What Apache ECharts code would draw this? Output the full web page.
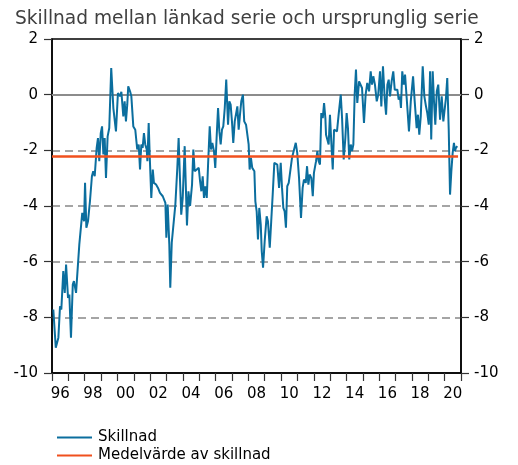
<!DOCTYPE html>
<html>
<head>
<meta charset="utf-8">
<script src="https://cdn.jsdelivr.net/npm/echarts@6/dist/echarts.min.js"></script>
<style>
  html, body { margin: 0; padding: 0; background: #fff; }
  #chart { width: 518px; height: 465px; }
</style>
</head>
<body>
<div id="chart"></div>
<script>
// År (decimal) och skillnad
var tid = [
  1996.08, 1996.23, 1996.39, 1996.49, 1996.57, 1996.69, 1996.78, 1996.86, 1996.98, 1997.06,
  1997.16, 1997.27, 1997.34, 1997.47, 1997.67, 1997.75, 1997.85, 1997.96, 1998.02, 1998.10,
  1998.20, 1998.32, 1998.44, 1998.52, 1998.61, 1998.73, 1998.81, 1998.89, 1998.98, 1999.06,
  1999.14, 1999.22, 1999.30, 1999.40, 1999.50, 1999.62, 1999.75, 1999.91, 2000.03, 2000.16,
  2000.24, 2000.28, 2000.36, 2000.44, 2000.52, 2000.60, 2000.66, 2000.77, 2000.85, 2000.97,
  2001.09, 2001.21, 2001.30, 2001.38, 2001.46, 2001.54, 2001.62, 2001.70, 2001.79, 2001.83,
  2001.91, 2001.97, 2002.07, 2002.16, 2002.23, 2002.36, 2002.48, 2002.60, 2002.68, 2002.77,
  2002.85, 2002.93, 2002.99, 2003.07, 2003.17, 2003.23, 2003.32, 2003.40, 2003.54, 2003.66,
  2003.74, 2003.82, 2003.90, 2003.99, 2004.11, 2004.19, 2004.25, 2004.34, 2004.44, 2004.56,
  2004.64, 2004.72, 2004.84, 2004.97, 2005.05, 2005.13, 2005.21, 2005.29, 2005.37, 2005.46,
  2005.54, 2005.64, 2005.72, 2005.80, 2005.90, 2005.98, 2006.07, 2006.15, 2006.23, 2006.31,
  2006.39, 2006.47, 2006.56, 2006.65, 2006.76, 2006.84, 2006.92, 2007.00, 2007.08, 2007.17,
  2007.25, 2007.33, 2007.41, 2007.49, 2007.57, 2007.67, 2007.75, 2007.86, 2007.94, 2008.02,
  2008.08, 2008.16, 2008.24, 2008.37, 2008.43, 2008.51, 2008.59, 2008.67, 2008.76, 2008.82,
  2008.90, 2009.00, 2009.12, 2009.20, 2009.31, 2009.40, 2009.49, 2009.59, 2009.69, 2009.77,
  2009.88, 2009.98, 2010.06, 2010.14, 2010.22, 2010.30, 2010.38, 2010.47, 2010.57, 2010.67,
  2010.77, 2010.90, 2010.99, 2011.10, 2011.22, 2011.32, 2011.40, 2011.51, 2011.59, 2011.67,
  2011.75, 2011.85, 2011.94, 2012.01, 2012.14, 2012.22, 2012.30, 2012.38, 2012.46, 2012.55,
  2012.63, 2012.71, 2012.75, 2012.83, 2012.91, 2012.99, 2013.07, 2013.16, 2013.24, 2013.32,
  2013.42, 2013.52, 2013.65, 2013.73, 2013.83, 2013.93, 2014.01, 2014.09, 2014.17, 2014.26,
  2014.34, 2014.42, 2014.50, 2014.58, 2014.66, 2014.77, 2014.87, 2014.95, 2015.07, 2015.17,
  2015.27, 2015.38, 2015.48, 2015.56, 2015.64, 2015.74, 2015.85, 2015.94, 2016.05, 2016.13,
  2016.23, 2016.34, 2016.42, 2016.50, 2016.58, 2016.66, 2016.76, 2016.86, 2016.95, 2017.03,
  2017.11, 2017.19, 2017.27, 2017.33, 2017.41, 2017.50, 2017.58, 2017.68, 2017.82, 2017.93,
  2018.07, 2018.17, 2018.29, 2018.37, 2018.45, 2018.54, 2018.66, 2018.76, 2018.86, 2018.94,
  2019.03, 2019.11, 2019.18, 2019.27, 2019.35, 2019.43, 2019.52, 2019.61, 2019.72, 2019.82,
  2019.92, 2020.00, 2020.08, 2020.16, 2020.25, 2020.33, 2020.41, 2020.49, 2020.57, 2020.63,
  2020.69, 2020.77
];
var skillnad = [
  -7.72, -9.09, -8.73, -7.60, -7.72, -6.34, -7.12, -6.10, -7.30, -7.18,
  -8.73, -6.82, -6.70, -7.12, -5.38, -5.38, -4.25, -4.55, -3.17, -4.78,
  -4.55, -3.83, -2.93, -2.75, -2.93, -1.91, -1.56, -2.39, -1.38, -1.14,
  -2.15, -1.56, -2.99, -1.50, -1.20, 0.96, -0.48, -1.32, 0.06, -0.06,
  0.10, 0.12, -0.78, -0.24, -0.96, -0.36, 0.30, 0.12, -0.06, -1.14,
  -1.26, -1.97, -1.79, -2.69, -1.79, -1.91, -1.38, -1.79, -1.97, -2.39,
  -1.02, -2.15, -3.71, -2.69, -3.17, -3.23, -3.35, -3.53, -3.47, -3.65,
  -3.71, -3.89, -5.14, -3.95, -5.38, -6.94, -5.32, -5.26, -3.95, -2.63,
  -1.56, -2.99, -4.31, -3.71, -1.85, -1.79, -4.70, -3.47, -4.00, -3.23,
  -1.97, -2.75, -2.81, -2.63, -3.11, -3.47, -2.93, -3.71, -3.29, -3.71,
  -2.51, -1.14, -1.97, -1.73, -2.03, -2.63, -1.44, -0.48, -1.32, -1.79,
  -1.26, -1.14, -0.48, 0.54, -1.08, -0.24, -0.36, -0.96, -1.73, -0.96,
  -0.90, -0.42, -1.26, -0.72, -0.24, 0.00, -0.96, -1.08, -1.02, -1.79,
  -2.69, -2.27, -2.63, -2.75, -3.83, -4.19, -5.20, -4.07, -4.67, -5.62,
  -6.22, -5.26, -4.37, -4.55, -5.50, -4.55, -3.59, -2.45, -2.45, -2.51,
  -3.35, -2.45, -3.35, -4.07, -4.19, -4.78, -3.29, -3.17, -3.11, -2.27,
  -2.03, -1.73, -2.09, -2.99, -4.43, -3.35, -3.05, -3.17, -2.57, -3.23,
  -2.87, -2.99, -3.65, -2.81, -2.39, -2.03, -2.39, -2.51, -0.66, -0.84,
  -0.30, -0.84, -1.44, -1.38, -1.79, -0.72, -1.67, -2.69, -1.26, -1.20,
  -1.32, -0.72, 0.00, -0.84, -2.33, -1.56, -0.66, -1.20, -2.33, -1.79,
  -2.03, -1.79, 0.00, 0.90, -0.30, 0.48, 0.54, 0.24, -1.02, 0.00,
  0.42, 0.12, 0.84, 0.36, 0.66, 0.36, -0.24, 0.00, 0.84, -0.42,
  1.02, -0.18, -0.72, 0.36, 0.54, -0.06, 0.48, 0.84, 0.18, 0.12,
  0.18, -0.18, -0.06, -0.48, 0.84, 0.36, 0.72, -0.12, -1.32, -0.24,
  0.66, -0.24, -1.20, -0.72, -1.44, -0.78, 1.02, -0.06, -0.42, -0.66,
  -1.08, 0.84, -1.61, 0.84, -0.24, -1.08, 0.12, 0.36, -0.90, -0.06,
  -0.96, -1.02, -0.12, 0.60, -1.26, -3.59, -2.75, -2.09, -1.73, -2.03,
  -1.91, -1.85
];
var medelvarde = -2.22;
var medelStart = 1996;
var medelSlut = 2020.82;

var ar = [];
for (var y = 1996; y <= 2020; y++) ar.push(String(y));

var linje = [];
for (var i = 0; i < tid.length; i++) linje.push([tid[i], skillnad[i]]);
var medel = [[medelStart, medelvarde], [medelSlut, medelvarde]];

var font = 'DejaVu Sans, Verdana, sans-serif';
var chart = echarts.init(document.getElementById('chart'));
var option = {
  animation: false,
  title: {
    text: 'Skillnad mellan länkad serie och ursprunglig serie',
    left: 10,
    top: 5,
    textStyle: { fontFamily: font, fontSize: 18.6, fontWeight: 'normal', color: '#404040' }
  },
  legend: {
    orient: 'vertical',
    left: 57,
    top: 430,
    padding: 0,
    icon: 'rect',
    itemWidth: 35,
    itemHeight: 2,
    itemGap: 3,
    textStyle: { fontFamily: font, fontSize: 15, color: '#000', padding: [0, 0, 0, 1] },
    data: ['Skillnad', 'Medelvärde av skillnad']
  },
  grid: {
    left: 52, right: 57, top: 39, bottom: 92,
    show: true, borderColor: '#000', borderWidth: 1.5
  },
  xAxis: [
    {
      type: 'category',
      data: ar,
      boundaryGap: true,
      axisLine: { show: true, onZero: false, lineStyle: { color: '#000', width: 1.5 } },
      axisTick: { show: true, interval: 0, length: 8, lineStyle: { color: '#333', width: 1.2 } },
      axisLabel: {
        interval: 1, margin: 14,
        fontFamily: font, fontSize: 15, color: '#000',
        formatter: function (v) { return v.slice(2); }
      },
      splitLine: { show: false }
    },
    { type: 'value', min: 1996, max: 2021, show: false }
  ],
  yAxis: [
    {
      type: 'value', min: -10, max: 2, interval: 2, position: 'left',
      axisLine: { show: true, lineStyle: { color: '#000', width: 1.5 } },
      axisTick: { show: true, length: 8, lineStyle: { color: '#333', width: 1.2 } },
      axisLabel: { margin: 14, fontFamily: font, fontSize: 15, color: '#000' },
      splitLine: {
        show: true, showMinLine: false, showMaxLine: false,
        lineStyle: { color: '#888', width: 1.5, type: [8, 5] }
      }
    },
    {
      type: 'value', min: -10, max: 2, interval: 2, position: 'right',
      axisLine: { show: true, lineStyle: { color: '#000', width: 1.5 } },
      axisTick: { show: true, length: 8, lineStyle: { color: '#333', width: 1.2 } },
      axisLabel: { margin: 13, fontFamily: font, fontSize: 15, color: '#000' },
      splitLine: { show: false }
    }
  ],
  series: [
    {
      name: 'Skillnad',
      type: 'line',
      xAxisIndex: 1,
      yAxisIndex: 0,
      data: linje,
      symbol: 'none',
      lineStyle: { color: '#0b6e9e', width: 2 },
      itemStyle: { color: '#0b6e9e' },
      z: 3,
      markLine: {
        silent: true,
        symbol: 'none',
        label: { show: false },
        lineStyle: { color: '#8c8c8c', width: 2, type: 'solid' },
        data: [{ yAxis: 0 }],
        z: 1
      }
    },
    {
      name: 'Medelvärde av skillnad',
      type: 'line',
      xAxisIndex: 1,
      yAxisIndex: 0,
      data: medel,
      symbol: 'none',
      lineStyle: { color: '#f0501e', width: 2.5 },
      itemStyle: { color: '#f0501e' },
      z: 4
    }
  ]
};
chart.setOption(option);
</script>
</body>
</html>
